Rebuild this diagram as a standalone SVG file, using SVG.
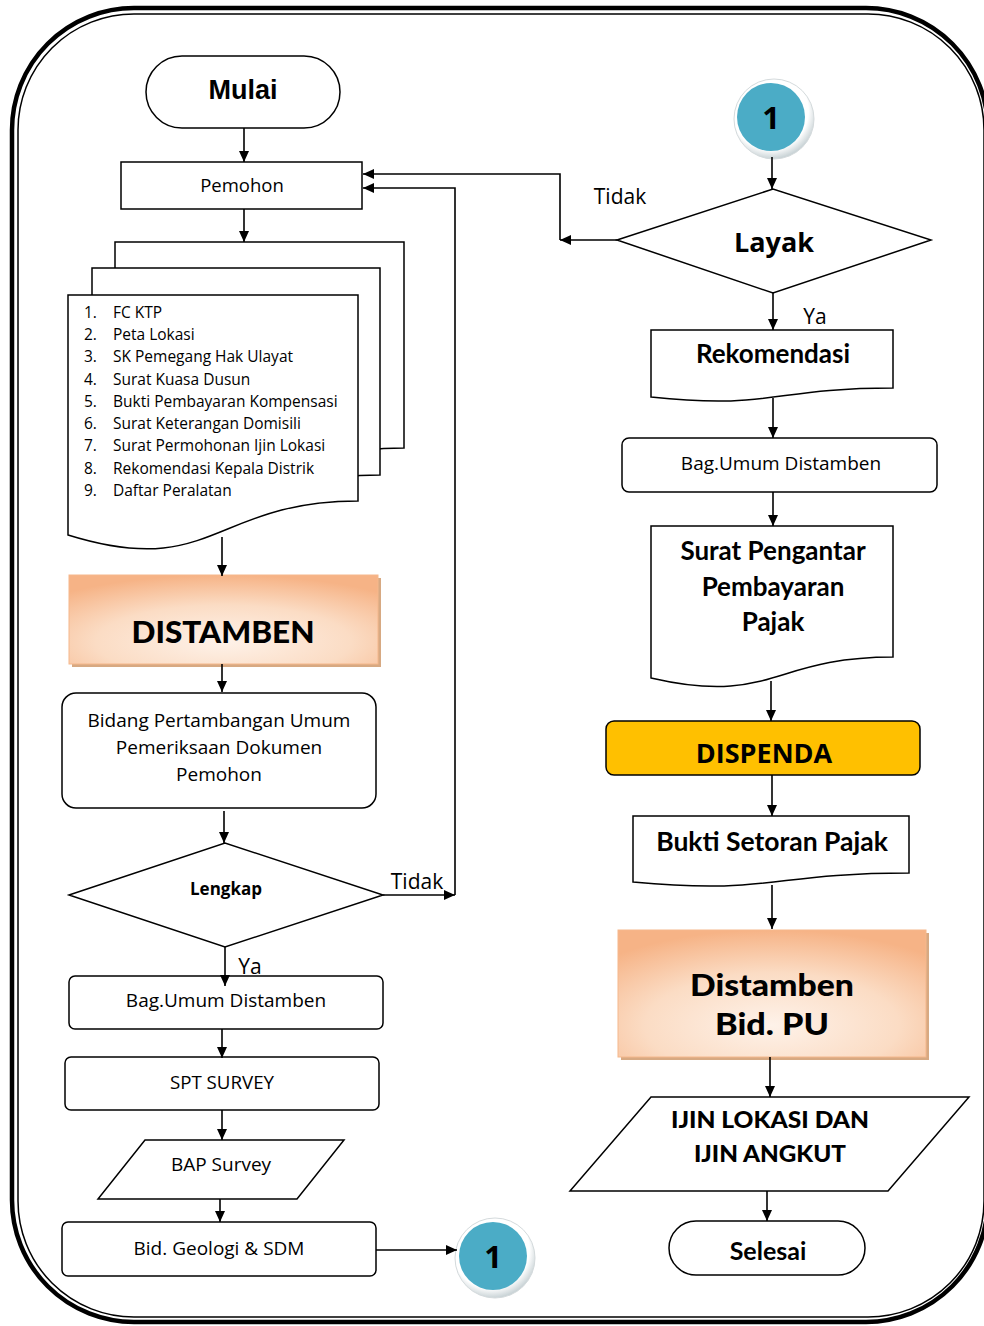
<svg xmlns="http://www.w3.org/2000/svg" width="984" height="1326" viewBox="0 0 984 1326">
<style>
.shape{fill:#fff;stroke:#000;stroke-width:1.5}
.conn path{fill:none;stroke:#000;stroke-width:1.6}
.cal{font-family:"Open Sans","Noto Sans",sans-serif;fill:#000}
.bold{font-weight:bold}
.heavy{font-family:Lato,"DejaVu Sans",sans-serif;font-weight:900;fill:#000}
.semi{font-family:Lato,"Noto Sans",sans-serif;font-weight:bold;fill:#000}
.arial{font-family:"Liberation Sans",Arial,sans-serif;font-weight:bold;fill:#000}
text{text-anchor:middle}
.lst text{text-anchor:start}
</style>
<defs>
<marker id="ah" markerUnits="userSpaceOnUse" markerWidth="11" markerHeight="10" refX="11" refY="5" orient="auto">
<path d="M0,0 L11,5 L0,10 z" fill="#000"/>
</marker>
<radialGradient id="peach" cx="0.5" cy="0.75" r="0.75">
<stop offset="0" stop-color="#fef2e9"/>
<stop offset="0.55" stop-color="#fbdcc4"/>
<stop offset="1" stop-color="#f6b386"/>
</radialGradient>
<radialGradient id="ring" cx="0.45" cy="0.4" r="0.6">
<stop offset="0.8" stop-color="#ffffff"/>
<stop offset="1" stop-color="#c9d3d6"/>
</radialGradient>
</defs>

<g id="frame" fill="none" stroke="#000">
<rect x="12" y="8" width="976" height="1314" rx="122" stroke-width="4.5"/>
<rect x="18" y="14" width="966" height="1303" rx="116" stroke-width="1.5"/>
</g>

<g id="mulai">
<rect class="shape" x="146" y="56" width="194" height="72" rx="36"/>
<text class="arial" x="243" y="99" font-size="27">Mulai</text>
</g>

<g id="pemohon">
<rect class="shape" x="121" y="162" width="241" height="47"/>
<text class="cal" x="242" y="192" font-size="18.5">Pemohon</text>
</g>

<g id="dokumen">
<path class="shape" d="M115,242 H404 V448 C259,448 259,526 115,482 Z"/>
<path class="shape" d="M92,268 H380 V475 C236,475 236,553 92,509 Z"/>
<path class="shape" d="M68,295 H358 V501 C213,501 213,580 68,535 Z"/>
<g class="cal lst" font-size="15.5">
<text x="84" y="318">1.</text><text x="113" y="318">FC KTP</text>
<text x="84" y="340">2.</text><text x="113" y="340">Peta Lokasi</text>
<text x="84" y="362">3.</text><text x="113" y="362">SK Pemegang Hak Ulayat</text>
<text x="84" y="385">4.</text><text x="113" y="385">Surat Kuasa Dusun</text>
<text x="84" y="407">5.</text><text x="113" y="407">Bukti Pembayaran Kompensasi</text>
<text x="84" y="429">6.</text><text x="113" y="429">Surat Keterangan Domisili</text>
<text x="84" y="451">7.</text><text x="113" y="451">Surat Permohonan Ijin Lokasi</text>
<text x="84" y="474">8.</text><text x="113" y="474">Rekomendasi Kepala Distrik</text>
<text x="84" y="496">9.</text><text x="113" y="496">Daftar Peralatan</text>
</g>
</g>

<g id="distamben">
<rect x="72" y="578" width="309" height="89" fill="#d7a982"/>
<rect x="69" y="575" width="309" height="89" fill="url(#peach)" stroke="#f5b88c" stroke-width="1"/>
<text class="heavy" x="223" y="643" font-size="30" textLength="183" lengthAdjust="spacingAndGlyphs">DISTAMBEN</text>
</g>

<g id="bidang">
<rect class="shape" x="62" y="693" width="314" height="115" rx="14"/>
<text class="cal" x="219" y="727" font-size="19">Bidang Pertambangan Umum</text>
<text class="cal" x="219" y="754" font-size="19">Pemeriksaan Dokumen</text>
<text class="cal" x="219" y="781" font-size="19">Pemohon</text>
</g>

<g id="lengkap">
<polygon class="shape" points="69,895 225,843 383,895 225,947"/>
<text class="cal bold" x="226" y="895" font-size="17">Lengkap</text>
</g>

<g id="bagumum1">
<rect class="shape" x="69" y="976" width="314" height="53" rx="6"/>
<text class="cal" x="226" y="1007" font-size="19">Bag.Umum Distamben</text>
</g>

<g id="spt">
<rect class="shape" x="65" y="1057" width="314" height="53" rx="6"/>
<text class="cal" x="222" y="1089" font-size="18.7">SPT SURVEY</text>
</g>

<g id="bap">
<polygon class="shape" points="145,1140 344,1140 297,1199 98,1199"/>
<text class="cal" x="221" y="1171" font-size="19">BAP Survey</text>
</g>

<g id="geologi">
<rect class="shape" x="62" y="1222" width="314" height="54" rx="6"/>
<text class="cal" x="219" y="1255" font-size="19">Bid. Geologi &amp; SDM</text>
</g>

<g id="con1a">
<circle cx="495" cy="1258" r="40" fill="url(#ring)" stroke="#d4dadc" stroke-width="1"/>
<circle cx="493" cy="1256" r="34" fill="#4bacc6"/>
<text class="cal bold" x="493" y="1268" font-size="31">1</text>
</g>

<g id="con1b">
<circle cx="774" cy="119" r="40" fill="url(#ring)" stroke="#d4dadc" stroke-width="1"/>
<circle cx="771" cy="117" r="34" fill="#4bacc6"/>
<text class="cal bold" x="771" y="129" font-size="31">1</text>
</g>

<g id="layak">
<polygon class="shape" points="617,240 773,189 931,240 773,293"/>
<text class="cal bold" x="774" y="252" font-size="27">Layak</text>
</g>

<g id="rekomendasi">
<path class="shape" d="M651,330 H893 V388 C772,388 772,410 651,397 Z"/>
<text class="semi" x="773" y="363" font-size="26">Rekomendasi</text>
</g>

<g id="bagumum2">
<rect class="shape" x="622" y="438" width="315" height="54" rx="7"/>
<text class="cal" x="781" y="470" font-size="19">Bag.Umum Distamben</text>
</g>

<g id="surat">
<path class="shape" d="M651,526 H893 V657 C772,657 772,706 651,678 Z"/>
<text class="semi" x="773" y="560" font-size="26">Surat Pengantar</text>
<text class="semi" x="773" y="596" font-size="26">Pembayaran</text>
<text class="semi" x="773" y="631" font-size="26">Pajak</text>
</g>

<g id="dispenda">
<rect x="606" y="721" width="314" height="54" rx="8" fill="#ffc000" stroke="#000" stroke-width="1.5"/>
<text class="cal bold" x="764" y="763" font-size="27">DISPENDA</text>
</g>

<g id="bukti">
<path class="shape" d="M633,816 H909 V873 C771,873 771,895 633,882 Z"/>
<text class="semi" x="772" y="851" font-size="26.5">Bukti Setoran Pajak</text>
</g>

<g id="bidpu">
<rect x="621" y="933" width="308" height="127" fill="#d7a982"/>
<rect x="618" y="930" width="308" height="127" fill="url(#peach)" stroke="#f5b88c" stroke-width="1"/>
<text class="heavy" x="772" y="996" font-size="30" textLength="164" lengthAdjust="spacingAndGlyphs">Distamben</text>
<text class="heavy" x="772" y="1035" font-size="30" textLength="114" lengthAdjust="spacingAndGlyphs">Bid. PU</text>
</g>

<g id="ijin">
<polygon class="shape" points="651,1097 969,1097 888,1191 570,1191"/>
<text class="heavy" x="770" y="1128" font-size="22" textLength="198" lengthAdjust="spacingAndGlyphs">IJIN LOKASI DAN</text>
<text class="heavy" x="770" y="1162" font-size="22" textLength="152" lengthAdjust="spacingAndGlyphs">IJIN ANGKUT</text>
</g>

<g id="selesai">
<rect class="shape" x="669" y="1221" width="196" height="54" rx="27"/>
<text class="semi" x="768" y="1260" font-size="25">Selesai</text>
</g>

<g id="labels" class="cal">
<text x="620" y="204" font-size="21">Tidak</text>
<text x="815" y="324" font-size="21">Ya</text>
<text x="417" y="889" font-size="21">Tidak</text>
<text x="250" y="974" font-size="21">Ya</text>
</g>

<g id="connectors" class="conn">
<path d="M244,128 V162" marker-end="url(#ah)"/>
<path d="M244,209 V242" marker-end="url(#ah)"/>
<path d="M222,537 V576" marker-end="url(#ah)"/>
<path d="M222,664 V692" marker-end="url(#ah)"/>
<path d="M224,811 V843" marker-end="url(#ah)"/>
<path d="M383,895 H455" marker-end="url(#ah)"/>
<path d="M455,895 V188 H363" marker-end="url(#ah)"/>
<path d="M617,240 H560" marker-end="url(#ah)"/>
<path d="M560,240 V174 H363" marker-end="url(#ah)"/>
<path d="M225,947 V986" marker-end="url(#ah)"/>
<path d="M222,1029 V1058" marker-end="url(#ah)"/>
<path d="M222,1110 V1140" marker-end="url(#ah)"/>
<path d="M220,1199 V1222" marker-end="url(#ah)"/>
<path d="M376,1250 H457" marker-end="url(#ah)"/>
<path d="M772,157 V189" marker-end="url(#ah)"/>
<path d="M773,293 V330" marker-end="url(#ah)"/>
<path d="M773,398 V438" marker-end="url(#ah)"/>
<path d="M773,492 V526" marker-end="url(#ah)"/>
<path d="M771,681 V721" marker-end="url(#ah)"/>
<path d="M772,775 V816" marker-end="url(#ah)"/>
<path d="M772,885 V929" marker-end="url(#ah)"/>
<path d="M770,1057 V1097" marker-end="url(#ah)"/>
<path d="M767,1191 V1221" marker-end="url(#ah)"/>
</g>
</svg>
